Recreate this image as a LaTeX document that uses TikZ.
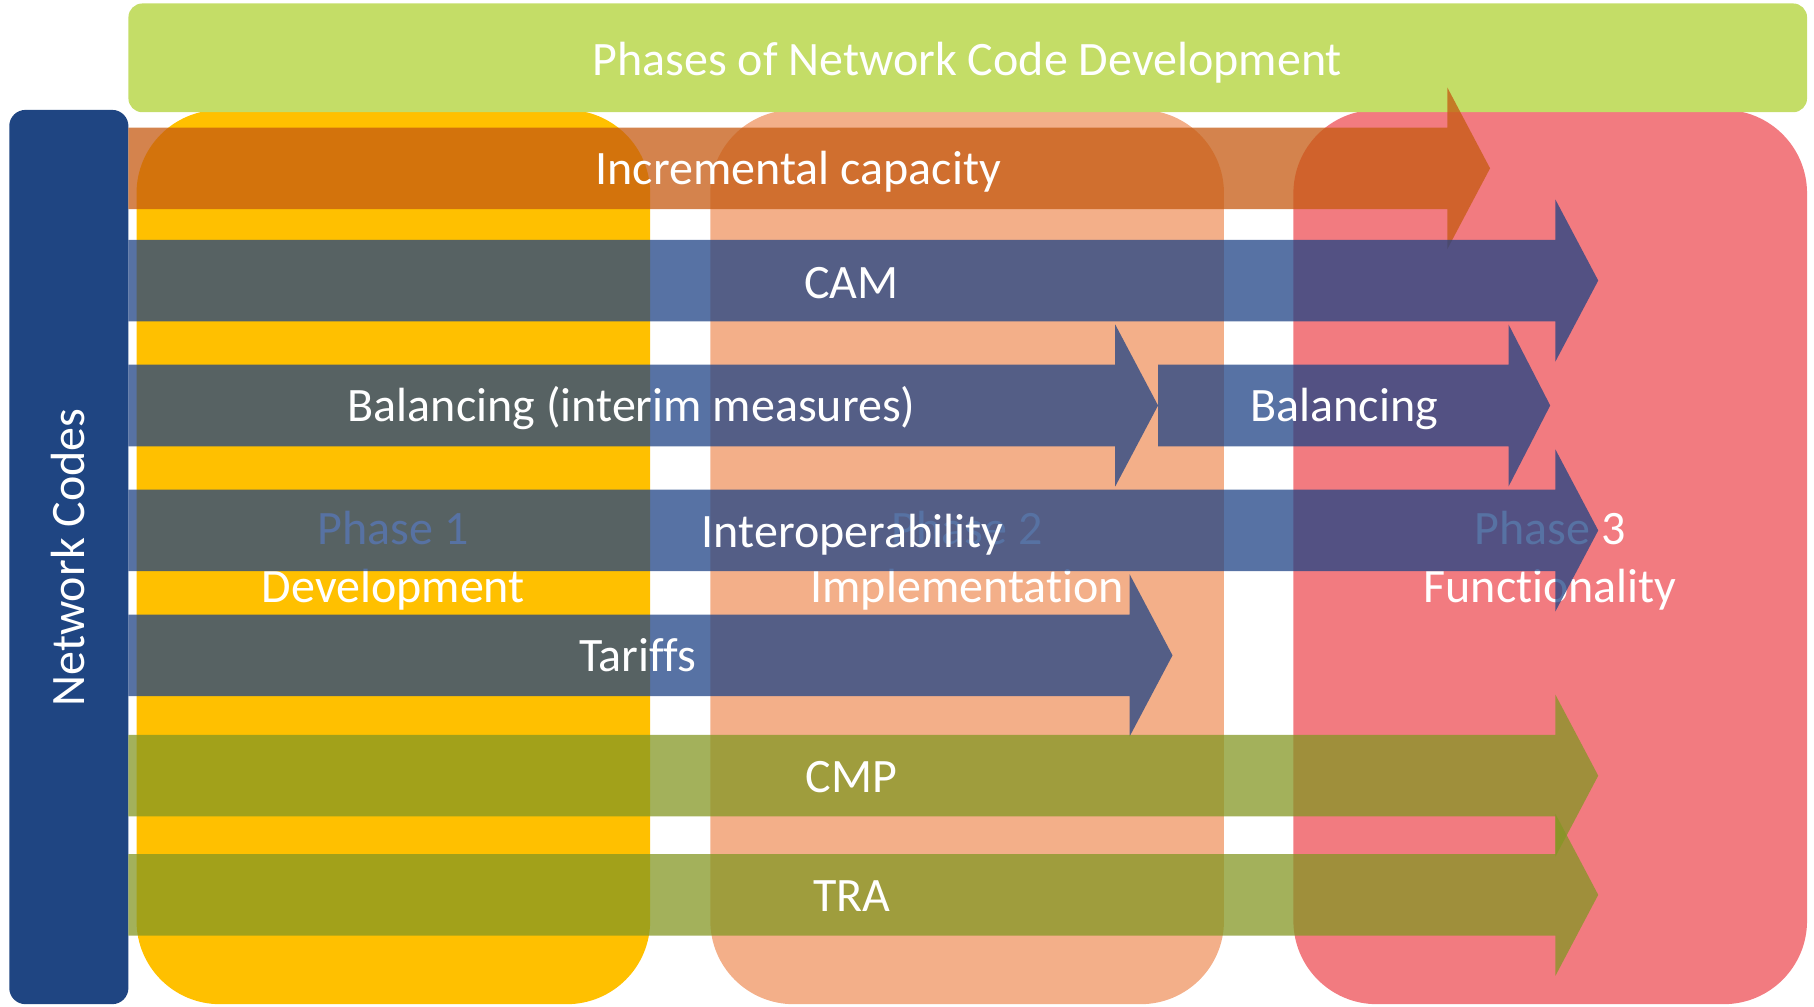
\documentclass[tikz,border=0pt]{standalone}
\usepackage{fontspec}
\setmainfont{Carlito}[Ligatures=NoCommon, Contextuals=NoAlternate]
\definecolor{titlegreen}{RGB}{196,221,103}
\definecolor{codeblue}{RGB}{31,69,130}
\definecolor{phaseone}{RGB}{255,192,0}
\definecolor{phasetwo}{RGB}{243,175,137}
\definecolor{phasethree}{RGB}{242,123,128}
\definecolor{arroworange}{RGB}{197,90,17}
\definecolor{arrowblue}{RGB}{31,67,133}
\definecolor{arrowgreen}{RGB}{132,151,36}
\begin{document}
\begin{tikzpicture}[x=0.01cm, y=-0.01cm,
    txt/.style={white, inner sep=0pt, anchor=base, font=\fontsize{11.8}{14.2}\selectfont},
    band/.style={fill opacity=0.75}]
      \useasboundingbox (0,0) rectangle (1568,870);
      %
      \fill[phaseone, rounded corners=7.2mm] (118,95) rectangle (562,868);
      \fill[phasetwo, rounded corners=7.2mm] (614,95) rectangle (1058,868);
      \fill[phasethree, rounded corners=7.2mm] (1118,95) rectangle (1562,868);
      %
      \node[txt, align=center] (ph1) at (340,521) {Phase 1\\Development};
      \node[txt, align=center] (ph2) at (836,521) {Phase 2\\Implementation};
      \node[txt, align=center] (ph3) at (1340,521) {Phase 3\\Functionality};
      %
      \fill[titlegreen, rounded corners=1.2mm] (111,3) rectangle (1562,97);
      \fill[codeblue, rounded corners=1.4mm] (8,95) rectangle (111,868);
      \node[txt] (title) at (836,65.5) {Phases of Network Code Development};
      \node[txt, rotate=90] (codes) at (73,482) {Network Codes};
      %
      \fill[arroworange, band] (111,110.25) -- (1251,110.25) -- (1251,75.5) -- (1288,145.5) -- (1251,215.5) -- (1251,180.75) -- (111,180.75) -- cycle;
      \fill[arrowblue, band] (111,207.25) -- (1344.5,207.25) -- (1344.5,172.5) -- (1381.5,242.5) -- (1344.5,312.5) -- (1344.5,277.75) -- (111,277.75) -- cycle;
      \fill[arrowblue, band] (111,315.25) -- (964,315.25) -- (964,280.5) -- (1001,350.5) -- (964,420.5) -- (964,385.75) -- (111,385.75) -- cycle;
      \fill[arrowblue, band] (1001,315.25) -- (1304,315.25) -- (1304,280.5) -- (1340,350.5) -- (1304,420.5) -- (1304,385.75) -- (1001,385.75) -- cycle;
      \fill[arrowblue, band] (111,423.25) -- (1344.5,423.25) -- (1344.5,388.5) -- (1381.5,458.5) -- (1344.5,528.5) -- (1344.5,493.75) -- (111,493.75) -- cycle;
      \fill[arrowblue, band] (111,531.25) -- (976.5,531.25) -- (976.5,496.5) -- (1013.5,566.5) -- (976.5,636.5) -- (976.5,601.75) -- (111,601.75) -- cycle;
      \fill[arrowgreen, band] (111,635.25) -- (1344.5,635.25) -- (1344.5,600.5) -- (1381.5,670.5) -- (1344.5,740.5) -- (1344.5,705.75) -- (111,705.75) -- cycle;
      \fill[arrowgreen, band] (111,738.25) -- (1344.5,738.25) -- (1344.5,703.5) -- (1381.5,773.5) -- (1344.5,843.5) -- (1344.5,808.75) -- (111,808.75) -- cycle;
      %
      \node[txt] (inc) at (690,159.5) {Incremental capacity};
      \node[txt] (cam) at (736,258) {CAM};
      \node[txt] (balint) at (546,364.5) {Balancing (interim measures)};
      \node[txt] (bal) at (1162,364.5) {Balancing};
      \node[txt] (interop) at (737,473) {Interoperability};
      \node[txt] (tariffs) at (551.5,580.5) {Tariffs};
      \node[txt] (cmp) at (736,685) {CMP};
      \node[txt] (tra) at (736.5,787.5) {TRA};
      %
    \end{tikzpicture}
\end{document}
